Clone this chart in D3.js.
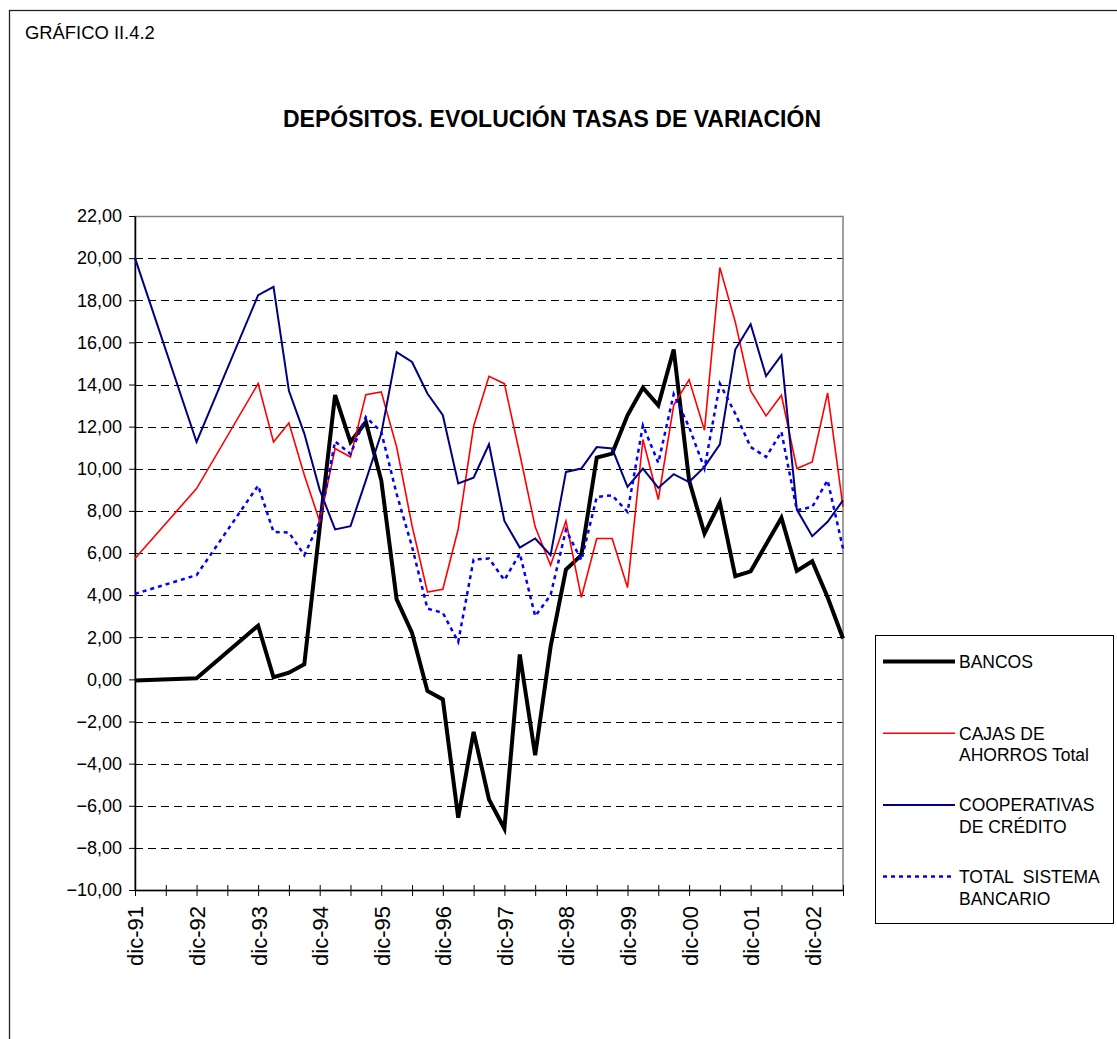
<!DOCTYPE html>
<html>
<head>
  <meta charset="utf-8">
  <title>Depósitos</title>
  <script src="https://d3js.org/d3.v7.min.js"></script>
  <style>
    body { margin: 0; background: #fff; }
    text { font-family: "Liberation Sans", Arial, sans-serif; }
  </style>
</head>
<body>
  <div id="chart"></div>
  <script>
    // periods (year-month), annual up to dic-93 then quarterly
    var periods = ["1991-12", "1992-12", "1993-12",
      "1994-03", "1994-06", "1994-09", "1994-12",
      "1995-03", "1995-06", "1995-09", "1995-12",
      "1996-03", "1996-06", "1996-09", "1996-12",
      "1997-03", "1997-06", "1997-09", "1997-12",
      "1998-03", "1998-06", "1998-09", "1998-12",
      "1999-03", "1999-06", "1999-09", "1999-12",
      "2000-03", "2000-06", "2000-09", "2000-12",
      "2001-03", "2001-06", "2001-09", "2001-12",
      "2002-03", "2002-06", "2002-09", "2002-12",
      "2003-03", "2003-06"];

    var bancos = [-0.05, 0.05, 2.55,
      0.1, 0.32, 0.72, 7.2,
      13.5, 11.27, 12.22, 9.45,
      3.8, 2.2, -0.55, -0.95,
      -6.57, -2.49, -5.7, -7.08,
      1.18, -3.6, 1.54, 5.21,
      5.9, 10.53, 10.72, 12.54,
      13.85, 13.01, 15.66, 9.45,
      6.92, 8.39, 4.9, 5.13,
      6.4, 7.67, 5.15, 5.61,
      3.9, 1.94];

    var cajas = [5.74, 9.06, 14.04,
      11.27, 12.17, 9.7, 7.5,
      10.96, 10.56, 13.52, 13.65,
      11.03, 7.3, 4.15, 4.28,
      7.14, 12.02, 14.39, 14.04,
      10.7, 7.24, 5.42, 7.52,
      3.89, 6.69, 6.69, 4.36,
      11.39, 8.54, 13.01, 14.23,
      11.83, 19.55, 16.97, 13.69,
      12.51, 13.49, 10.01, 10.32,
      13.6, 8.19];

    var cooperativas = [20.0, 11.27, 18.24,
      18.64, 13.7, 11.67, 9.0,
      7.12, 7.27, 9.45, 11.67,
      15.54, 15.07, 13.57, 12.54,
      9.3, 9.58, 11.16, 7.52,
      6.26, 6.69, 5.9, 9.85,
      10.01, 11.03, 10.96, 9.14,
      10.01, 9.09, 9.74, 9.37,
      10.09, 11.16, 15.66, 16.86,
      14.4, 15.39, 8.06, 6.8,
      7.48, 8.5];

    var totalSistema = [4.06, 4.95, 9.2,
      7.0, 6.97, 5.9, 7.48,
      11.3, 10.7, 12.46, 11.75,
      8.8, 6.3, 3.36, 3.16,
      1.78, 5.69, 5.74, 4.71,
      5.98, 3.0, 4.0, 7.1,
      5.66, 8.66, 8.74, 7.95,
      12.06, 10.28, 13.54, 11.98,
      10.01, 14.04, 12.62, 11.03,
      10.56, 11.75, 8.03, 8.19,
      9.45, 6.21];

    var yTicks = d3.range(-10, 23, 2);
    var monthNames = { "03": "mar", "06": "jun", "09": "sep", "12": "dic" };

    var series = [
      { name: ["BANCOS"], values: bancos, color: "#000000", width: 4, dash: null },
      { name: ["CAJAS DE", "AHORROS Total"], values: cajas, color: "#ff0000", width: 1.6, dash: null },
      { name: ["COOPERATIVAS", "DE CRÉDITO"], values: cooperativas, color: "#000080", width: 2, dash: null },
      { name: ["TOTAL  SISTEMA", "BANCARIO"], values: totalSistema, color: "#0000ff", width: 2.5, dash: "4,4" }
    ];

    // month index counted from the first period
    function monthIndex(p) {
      var parts = p.split("-");
      return (+parts[0] - 1991) * 12 + (+parts[1] - 12);
    }
    var months = periods.map(monthIndex);

    var W = 1117, H = 1039;
    var plot = { left: 135, top: 216, right: 843, bottom: 890 };

    var svg = d3.select("#chart").append("svg")
      .attr("width", W)
      .attr("height", H);

    svg.append("rect")
      .attr("width", W).attr("height", H).attr("fill", "#fff");

    // outer frame
    svg.append("rect")
      .attr("x", 9.5).attr("y", 10.5)
      .attr("width", W).attr("height", H)
      .attr("fill", "none")
      .attr("stroke", "#222")
      .attr("stroke-width", 1.3);

    svg.append("text")
      .attr("x", 25).attr("y", 39)
      .style("font-size", "18.4px")
      .text("GRÁFICO II.4.2");

    svg.append("text")
      .attr("x", 552).attr("y", 127)
      .attr("text-anchor", "middle")
      .style("font-size", "23px")
      .style("font-weight", "bold")
      .text("DEPÓSITOS. EVOLUCIÓN TASAS DE VARIACIÓN");

    var x = d3.scaleLinear()
      .domain([0, d3.max(months)])
      .range([plot.left, plot.right]);

    var y = d3.scaleLinear()
      .domain([d3.min(yTicks), d3.max(yTicks)])
      .range([plot.bottom, plot.top]);

    // gridlines
    svg.append("g")
      .selectAll("line")
      .data(yTicks.filter(function (d) { return d > d3.min(yTicks) && d < d3.max(yTicks); }))
      .enter().append("line")
      .attr("x1", plot.left).attr("x2", plot.right)
      .attr("y1", function (d) { return Math.round(y(d)) + 0.5; })
      .attr("y2", function (d) { return Math.round(y(d)) + 0.5; })
      .attr("stroke", "#000")
      .attr("stroke-width", 1)
      .attr("stroke-dasharray", "8,5");

    // plot area border (grey)
    svg.append("rect")
      .attr("x", plot.left).attr("y", Math.round(plot.top) + 0.5)
      .attr("width", plot.right - plot.left)
      .attr("height", plot.bottom - plot.top)
      .attr("fill", "none")
      .attr("stroke", "#808080")
      .attr("stroke-width", 1.5);

    // y axis
    var yAxis = svg.append("g")
      .attr("transform", "translate(" + plot.left + ",0)")
      .call(d3.axisLeft(y)
        .tickValues(yTicks)
        .tickSizeInner(6)
        .tickSizeOuter(0)
        .tickPadding(7)
        .tickFormat(function (d) { return d3.format(".2f")(d).replace(".", ","); }));
    yAxis.select(".domain").attr("stroke", "#000").attr("stroke-width", 1.5);
    yAxis.selectAll(".tick line").attr("stroke", "#000");
    yAxis.selectAll("text")
      .style("font-size", "18px")
      .style("font-family", "'Liberation Sans', Arial, sans-serif")
      .attr("fill", "#000");

    // x axis: ticks every 6 months, labels every december
    var xAxis = svg.append("g")
      .attr("transform", "translate(0," + plot.bottom + ")")
      .call(d3.axisBottom(x)
        .tickValues(d3.range(0, d3.max(months) + 1, 6))
        .tickSizeOuter(0)
        .tickFormat(function (d) {
          if (d % 12 !== 0) return "";
          var yr = 1991 + d / 12;
          return monthNames["12"] + "-" + String(yr).slice(2);
        }));
    xAxis.select(".domain").attr("stroke", "#000").attr("stroke-width", 1.5);
    xAxis.selectAll(".tick line")
      .attr("stroke", "#000")
      .attr("y1", -5)
      .attr("y2", 6);
    xAxis.selectAll("text")
      .attr("transform", "rotate(-90)")
      .attr("text-anchor", "end")
      .attr("x", -16)
      .attr("y", 0)
      .attr("dy", "0.36em")
      .style("font-size", "22px")
      .style("font-family", "'Liberation Sans', Arial, sans-serif")
      .attr("fill", "#000");

    // series lines
    var line = d3.line()
      .x(function (d, i) { return x(months[i]); })
      .y(function (d) { return y(d); });

    svg.append("g")
      .selectAll("path")
      .data(series)
      .enter().append("path")
      .attr("d", function (s) { return line(s.values); })
      .attr("fill", "none")
      .attr("stroke", function (s) { return s.color; })
      .attr("stroke-width", function (s) { return s.width; })
      .attr("stroke-dasharray", function (s) { return s.dash; })
      .attr("stroke-linejoin", "miter");

    // legend
    var legend = svg.append("g");
    legend.append("rect")
      .attr("x", 875.5).attr("y", 635.5)
      .attr("width", 238).attr("height", 288)
      .attr("fill", "#fff")
      .attr("stroke", "#000")
      .attr("stroke-width", 1);

    var entry = legend.selectAll("g.entry")
      .data(series)
      .enter().append("g")
      .attr("class", "entry")
      .attr("transform", function (s, i) { return "translate(0," + (661.5 + i * 71.7) + ")"; });

    entry.append("line")
      .attr("x1", 883).attr("x2", 955)
      .attr("y1", 0).attr("y2", 0)
      .attr("stroke", function (s) { return s.color; })
      .attr("stroke-width", function (s) { return s.width; })
      .attr("stroke-dasharray", function (s) { return s.dash; });

    entry.each(function (s) {
      var g = d3.select(this);
      s.name.forEach(function (t, k) {
        g.append("text")
          .attr("x", 959)
          .attr("y", 6.5 + k * 21.5)
          .style("font-size", "17.5px")
          .style("white-space", "pre")
          .attr("xml:space", "preserve")
          .text(t);
      });
    });
  </script>
</body>
</html>
